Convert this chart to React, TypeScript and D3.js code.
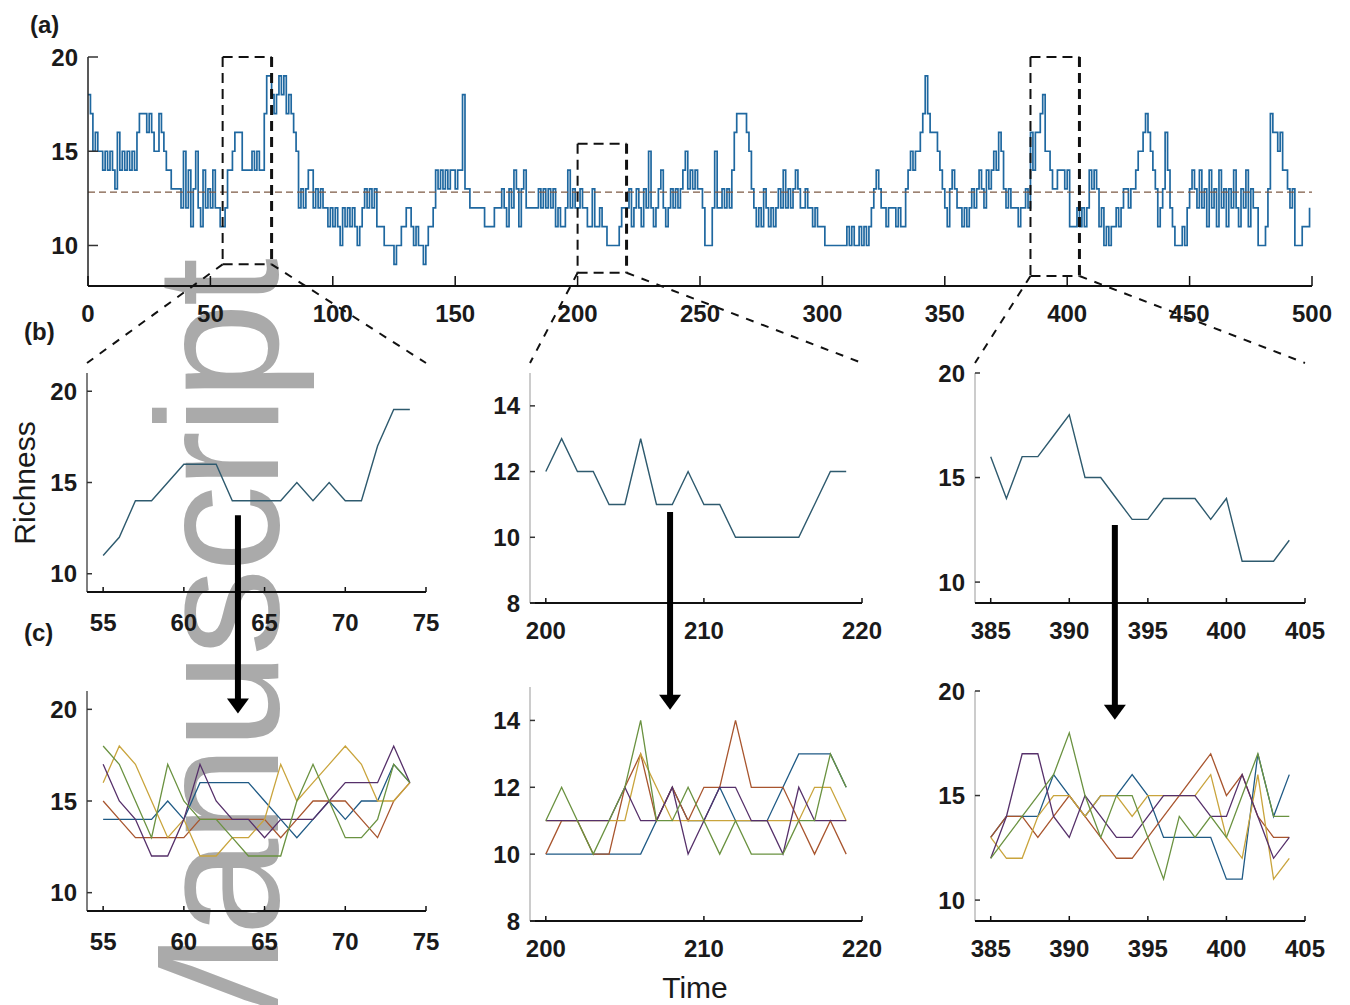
import React from 'react';
import * as d3 from 'd3';

const W = 1350;
const H = 1005;
const FONT = '"Liberation Sans", Arial, Helvetica, sans-serif';

// richness over time; the three zoom windows are shared with (b)
const richPre = [
  18, 17, 15, 16, 15, 15, 14, 15, 14, 15,
  14, 13, 16, 14, 15, 14, 15, 14, 15, 14,
  16, 17, 17, 17, 16, 17, 16, 15, 15, 17,
  16, 15, 14, 14, 13, 13, 13, 13, 12, 15,
  12, 14, 11, 13, 15, 12, 11, 14, 12, 13,
  12, 14, 12, 12, 11,
];
const richWin1 = [11, 12, 14, 14, 15, 16, 16, 16, 14, 14, 14, 14, 15, 14, 15, 14, 14, 17, 19, 19];
const richMid1 = [
  18, 17, 18, 19, 18, 19, 17, 18, 17, 16,
  15, 12, 13, 12, 13, 14, 14, 12, 13, 12,
  13, 12, 12, 11, 12, 11, 12, 11, 10, 12,
  11, 12, 11, 12, 11, 10, 11, 12, 13, 12,
  13, 12, 13, 11, 11, 11, 10, 10, 10, 10,
  9, 10, 10, 11, 11, 12, 12, 11, 10, 11,
  10, 10, 9, 10, 11, 11, 12, 14, 13, 14,
  13, 14, 13, 14, 14, 13, 14, 14, 18, 13,
  13, 12, 12, 12, 12, 12, 12, 11, 11, 11,
  11, 12, 12, 12, 13, 12, 11, 13, 12, 14,
  13, 11, 13, 14, 12, 12, 12, 12, 12, 13,
  12, 13, 12, 13, 12, 13, 11, 12, 11, 11,
  12, 14, 12, 13, 12,
];
const richWin2 = [12, 13, 12, 12, 11, 11, 13, 11, 11, 12, 11, 11, 10, 10, 10, 10, 10, 11, 12, 12];
const richMid2 = [
  12, 13, 11, 12, 13, 12, 11, 13, 12, 15,
  12, 11, 12, 13, 14, 12, 11, 12, 13, 12,
  13, 12, 13, 14, 15, 13, 14, 13, 14, 13,
  13, 12, 10, 10, 10, 12, 15, 12, 12, 13,
  12, 13, 12, 14, 16, 17, 17, 17, 17, 16,
  15, 13, 12, 11, 12, 11, 13, 12, 11, 12,
  11, 12, 13, 12, 14, 12, 13, 12, 13, 14,
  13, 12, 12, 13, 12, 12, 11, 12, 11, 11,
  11, 10, 10, 10, 10, 10, 10, 10, 10, 10,
  11, 10, 11, 10, 10, 11, 10, 11, 10, 11,
  12, 13, 14, 13, 12, 12, 11, 12, 12, 12,
  11, 12, 11, 11, 13, 14, 15, 14, 15, 15,
  16, 17, 19, 17, 16, 16, 16, 15, 14, 13,
  12, 11, 13, 14, 13, 12, 12, 11, 12, 11,
  12, 13, 12, 13, 14, 13, 12, 14, 13, 14,
  15, 14, 16, 15, 13, 12, 13, 12, 12, 12,
  11, 12, 12, 13, 12,
];
const richWin3 = [16, 14, 16, 16, 17, 18, 15, 15, 14, 13, 13, 14, 14, 14, 13, 14, 11, 11, 11, 12];
const richPost = [
  11, 12, 11, 12, 14, 13, 14, 13, 11, 12,
  10, 11, 10, 11, 11, 12, 11, 12, 13, 13,
  12, 13, 13, 14, 15, 15, 16, 17, 16, 15,
  14, 13, 11, 12, 13, 16, 14, 12, 11, 10,
  10, 10, 11, 10, 12, 13, 14, 13, 12, 14,
  12, 13, 11, 14, 12, 13, 11, 14, 12, 13,
  11, 13, 12, 14, 12, 11, 13, 12, 14, 11,
  13, 12, 12, 10, 10, 10, 11, 13, 17, 16,
  16, 15, 16, 14, 14, 13, 12, 13, 10, 10,
  10, 11, 11, 11, 12,
];
const richness = [...richPre, ...richWin1, ...richMid1, ...richWin2, ...richMid2, ...richWin3, ...richPost];

// replicate runs shown in (c)
const c1Blue = [14, 14, 14, 14, 15, 14, 16, 16, 16, 16, 15, 14, 13, 14, 15, 14, 15, 15, 17, 16];
const c1Purple = [17, 15, 14, 12, 12, 14, 17, 15, 14, 14, 13, 14, 14, 14, 15, 16, 16, 16, 18, 16];
const c1Orange = [15, 14, 13, 13, 13, 13, 14, 14, 14, 14, 14, 13, 14, 15, 15, 15, 14, 13, 15, 16];
const c1Yellow = [16, 18, 17, 15, 13, 14, 12, 12, 13, 13, 14, 17, 15, 16, 17, 18, 17, 15, 15, 16];
const c1Green = [18, 17, 15, 13, 17, 15, 14, 14, 13, 12, 12, 12, 15, 17, 15, 13, 13, 14, 17, 16];

const c2Blue = [10, 10, 10, 10, 10, 10, 10, 11, 12, 11, 11, 12, 11, 11, 11, 12, 13, 13, 13, 12];
const c2Purple = [11, 11, 11, 11, 11, 12, 11, 11, 12, 10, 11, 12, 12, 11, 11, 10, 12, 11, 11, 11];
const c2Green = [11, 12, 11, 10, 11, 12, 14, 11, 11, 12, 11, 10, 11, 10, 10, 10, 11, 11, 13, 12];
const c2Orange = [10, 11, 11, 10, 10, 12, 13, 11, 12, 11, 12, 12, 14, 12, 12, 12, 11, 10, 11, 10];
const c2Yellow = [11, 11, 11, 11, 11, 11, 13, 12, 11, 11, 11, 11, 11, 11, 11, 11, 11, 12, 12, 11];

const c3Purple = [12, 14, 17, 17, 14, 13, 15, 14, 13, 13, 14, 15, 15, 15, 14, 14, 16, 14, 12, 13];
const c3Blue = [13, 14, 14, 14, 16, 15, 14, 15, 15, 16, 15, 13, 13, 13, 13, 11, 11, 17, 14, 16];
const c3Green = [12, 13, 14, 15, 16, 18, 15, 13, 15, 15, 13, 11, 14, 13, 14, 13, 15, 17, 14, 14];
const c3Orange = [13, 14, 14, 13, 14, 15, 14, 13, 12, 12, 13, 14, 15, 16, 17, 15, 16, 14, 13, 13];
const c3Yellow = [13, 12, 12, 14, 15, 15, 14, 15, 15, 14, 15, 15, 15, 15, 16, 13, 12, 16, 11, 12];

const lineColors = ['#1f5a85', '#a8552e', '#c9a43c', '#56306a', '#6a9240'];

const xTicksA = [0, 50, 100, 150, 200, 250, 300, 350, 400, 450, 500];
const yTicksA = [10, 15, 20];

const panels = [
  {
    t0: 55, win: richWin1, runs: [c1Blue, c1Orange, c1Yellow, c1Purple, c1Green],
    xDom: [54, 75], xRng: [87, 426], xTicks: [55, 60, 65, 70, 75],
    bDom: [9, 21], bRng: [592, 373], cDom: [9, 21], cRng: [911, 691], yTicks: [10, 15, 20],
    box: [55, 75, 9, 20], left: '#555', bGap: 39, cGap: 39,
    arrow: [63.35, 13.2, 19.77],
  },
  {
    t0: 200, win: richWin2, runs: [c2Blue, c2Orange, c2Yellow, c2Purple, c2Green],
    xDom: [199, 220], xRng: [530, 862], xTicks: [200, 210, 220],
    bDom: [8, 15], bRng: [603, 373], cDom: [8, 15], cRng: [921, 687], yTicks: [8, 10, 12, 14],
    box: [200, 220, 8.55, 15.4], left: '#bbb', bGap: 36, cGap: 36,
    arrow: [207.86, 10.77, 14.32],
  },
  {
    t0: 385, win: richWin3, runs: [c3Blue, c3Orange, c3Yellow, c3Purple, c3Green],
    xDom: [384, 405], xRng: [975, 1305], xTicks: [385, 390, 395, 400, 405],
    bDom: [9, 20], bRng: [603, 373], cDom: [9, 20], cRng: [921, 691], yTicks: [10, 15, 20],
    box: [385, 405, 8.38, 20], left: '#bbb', bGap: 36, cGap: 36,
    arrow: [392.9, 12.73, 18.62],
  },
];

const tickText = { fontSize: 24, fontWeight: 700 as const, fill: '#1a1a1a' };

function Axes({ x, y, xTicks, yTicks, left, gap, tick }: any) {
  const [x0, x1] = x.range();
  const [yb, yt] = y.range();
  return (
    <g>
      <line x1={x0} x2={x0} y1={yt} y2={yb} stroke={left} strokeWidth={1.5} />
      <line x1={x0} x2={x1} y1={yb} y2={yb} stroke="#111" strokeWidth={2} />
      {xTicks.map((t: number) => (
        <g key={'x' + t}>
          <line x1={x(t)} x2={x(t)} y1={yb} y2={yb - tick} stroke="#111" strokeWidth={1.5} />
          <text x={x(t)} y={yb + gap} textAnchor="middle" {...tickText}>{t}</text>
        </g>
      ))}
      {yTicks.map((t: number) => (
        <g key={'y' + t}>
          <line x1={x0} x2={x0 + tick} y1={y(t)} y2={y(t)} stroke="#333" strokeWidth={1.5} />
          <text x={x0 - 10} y={y(t) + 8.5} textAnchor="end" {...tickText}>{t}</text>
        </g>
      ))}
    </g>
  );
}

export default function App() {
  const xA = d3.scaleLinear().domain([0, 500]).range([88, 1312]);
  const yA = d3.scaleLinear().domain([7.85, 20]).range([286, 57]);
  const stairs = d3.line<number>().x((_, i) => xA(i)).y(d => yA(d)).curve(d3.curveStepAfter);
  const meanRich = d3.mean(richness) ?? 12.8;

  return (
    <div style={{ position: 'absolute', left: 0, top: 0 }}>
      <svg width={W} height={H} style={{ display: 'block', background: '#fff' }} fontFamily={FONT}>
        {/* watermark */}
        <text transform="translate(278,262) rotate(-90)" textAnchor="end" fontSize={175}
          letterSpacing={-4} fill="#aaaaaa">Manuscript</text>

        {/* (a) full series */}
        <path d={stairs(richness) ?? ''} fill="none" stroke="#1f68a0" strokeWidth={1.7} />
        <line x1={xA(0)} x2={xA(500)} y1={yA(meanRich)} y2={yA(meanRich)}
          stroke="#7d5a44" strokeWidth={1.3} strokeDasharray="7 4" />
        <Axes x={xA} y={yA} xTicks={xTicksA} yTicks={yTicksA} left="#222" gap={36} tick={10} />

        {panels.map((p, k) => {
          const xs = d3.scaleLinear().domain(p.xDom).range(p.xRng);
          const yb = d3.scaleLinear().domain(p.bDom).range(p.bRng);
          const yc = d3.scaleLinear().domain(p.cDom).range(p.cRng);
          const lb = d3.line<number>().x((_, i) => xs(p.t0 + i)).y(d => yb(d));
          const lc = d3.line<number>().x((_, i) => xs(p.t0 + i)).y(d => yc(d));
          const [bx0, bx1, by0, by1] = p.box;
          const topB = p.bRng[1] - 10;
          const [ax, ay0, ay1] = p.arrow;
          const tipY = yc(ay1);
          return (
            <g key={k}>
              {/* zoom box in (a) */}
              <g fill="none" stroke="#111" strokeDasharray="10 6">
                <line x1={xA(bx0)} x2={xA(bx1)} y1={yA(by1)} y2={yA(by1)} strokeWidth={2} />
                <line x1={xA(bx0)} x2={xA(bx1)} y1={yA(by0)} y2={yA(by0)} strokeWidth={2} />
                <line x1={xA(bx0)} x2={xA(bx0)} y1={yA(by1)} y2={yA(by0)} strokeWidth={2} />
                <line x1={xA(bx1)} x2={xA(bx1)} y1={yA(by1)} y2={yA(by0)} strokeWidth={3} />
              </g>
              {/* connectors */}
              <g stroke="#111" strokeWidth={2} strokeDasharray="8 8">
                <line x1={xA(bx0)} y1={yA(by0)} x2={p.xRng[0]} y2={topB} />
                <line x1={xA(bx1)} y1={yA(by0)} x2={p.xRng[1]} y2={topB} />
              </g>

              {/* (b) */}
              <Axes x={xs} y={yb} xTicks={p.xTicks} yTicks={p.yTicks} left={p.left} gap={p.bGap} tick={5} />
              <path d={lb(p.win) ?? ''} fill="none" stroke="#2e5a6e" strokeWidth={1.4} />

              {/* (c) */}
              <Axes x={xs} y={yc} xTicks={p.xTicks} yTicks={p.yTicks} left={p.left} gap={p.cGap} tick={5} />
              {p.runs.map((r, j) => (
                <path key={j} d={lc(r) ?? ''} fill="none" stroke={lineColors[j]} strokeWidth={1.3} />
              ))}

              {/* arrow */}
              <line x1={xs(ax)} x2={xs(ax)} y1={yb(ay0)} y2={tipY - 12} stroke="#000" strokeWidth={6} />
              <polygon points={`${xs(ax) - 11},${tipY - 15} ${xs(ax) + 11},${tipY - 15} ${xs(ax)},${tipY}`} fill="#000" />
            </g>
          );
        })}

        <text x={30} y={33} fontSize={24} fontWeight={700} fill="#1a1a1a">(a)</text>
        <text x={24} y={340} fontSize={24} fontWeight={700} fill="#1a1a1a">(b)</text>
        <text x={24} y={641} fontSize={24} fontWeight={700} fill="#1a1a1a">(c)</text>
        <text transform="translate(35,483) rotate(-90)" textAnchor="middle" fontSize={30} fill="#1a1a1a">Richness</text>
        <text x={695} y={998} textAnchor="middle" fontSize={30} fill="#1a1a1a">Time</text>
      </svg>
    </div>
  );
}
